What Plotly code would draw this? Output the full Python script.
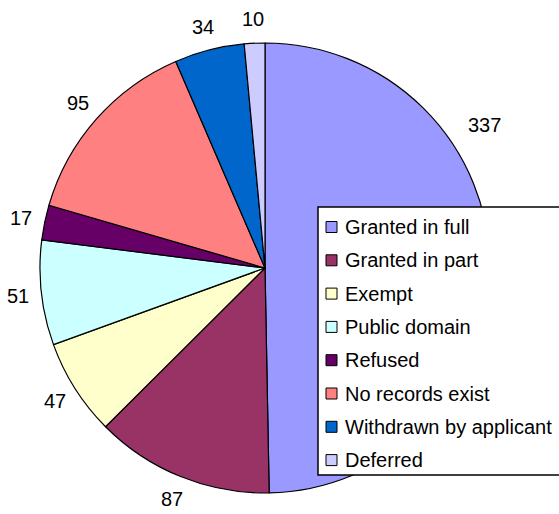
import math
import plotly.graph_objects as go

categories = ["Granted in full", "Granted in part", "Exempt", "Public domain",
              "Refused", "No records exist", "Withdrawn by applicant", "Deferred"]
values = [337, 87, 47, 51, 17, 95, 34, 10]
colors = ["#9999FF", "#993366", "#FFFFCC", "#CCFFFF",
          "#660066", "#FF8080", "#0066CC", "#CCCCFF"]

W, H = 559, 514
cx, cy, r = 265, 268, 225
FONT = "Liberation Sans, Arial"

fig = go.Figure(go.Pie(
    labels=categories,
    values=values,
    sort=False,
    direction="clockwise",
    rotation=0,
    textinfo="none",
    marker=dict(colors=colors, line=dict(color="black", width=1.2)),
    domain=dict(x=[(cx - r) / W, (cx + r) / W], y=[1 - (cy + r) / H, 1 - (cy - r) / H]),
    hoverinfo="label+value",
    showlegend=False,
))

# value labels placed outside each slice at its mid-angle
total = sum(values)
label_r = 249
angle_override = {0: (57.0, 262)}  # first label moved clear of the legend box
annotations = []
cum = 0
for i, v in enumerate(values):
    mid = (cum + v / 2) / total * 360
    cum += v
    rr = label_r
    if i in angle_override:
        mid, rr = angle_override[i]
    th = math.radians(mid)
    px = cx + rr * math.sin(th)
    py = cy - rr * math.cos(th)
    annotations.append(dict(
        x=px / W, y=1 - py / H, xref="paper", yref="paper",
        text=str(v), showarrow=False, xanchor="center", yanchor="middle",
        font=dict(family=FONT, size=20, color="black"),
    ))

# legend box drawn by hand to match item spacing
shapes = [dict(type="rect", xref="paper", yref="paper",
               x0=318 / W, x1=(W + 5) / W, y0=1 - 475 / H, y1=1 - 207 / H,
               line=dict(color="black", width=1.5), fillcolor="white", layer="above")]
lx, ly0, lstep = 326, 227, 33.3
for i, (name, c) in enumerate(zip(categories, colors)):
    yc = ly0 + i * lstep
    shapes.append(dict(type="rect", xref="paper", yref="paper",
                       x0=lx / W, x1=(lx + 11) / W,
                       y0=1 - (yc + 5.5) / H, y1=1 - (yc - 5.5) / H,
                       line=dict(color="black", width=1), fillcolor=c, layer="above"))
    annotations.append(dict(
        x=(lx + 17) / W, y=1 - yc / H, xref="paper", yref="paper",
        text=name, showarrow=False, xanchor="left", yanchor="middle",
        font=dict(family=FONT, size=20, color="black"),
    ))

fig.update_layout(
    width=W, height=H,
    margin=dict(l=0, r=0, t=0, b=0),
    paper_bgcolor="white",
    plot_bgcolor="white",
    annotations=annotations,
    shapes=shapes,
)

fig.write_html("out.html", config={"displayModeBar": False},
               post_script="document.body.style.margin='0';document.body.style.overflow='hidden';")
